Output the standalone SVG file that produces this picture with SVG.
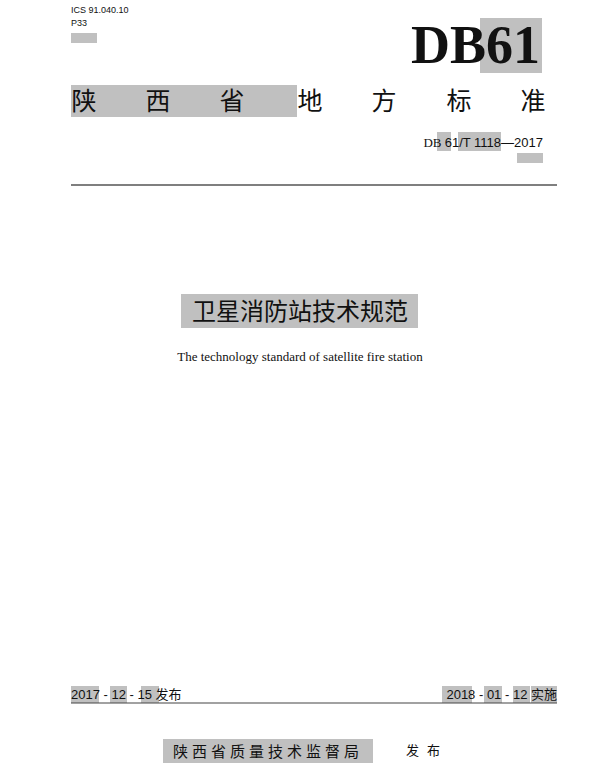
<svg xmlns="http://www.w3.org/2000/svg" width="600" height="768" viewBox="0 0 600 768">
<style>
.g{fill:#c0c0c0}
.s{font-family:"Liberation Sans","Noto Sans CJK SC",sans-serif;fill:#111}
.c{font-family:"Noto Sans CJK SC",sans-serif;fill:#111}
.r{font-family:"Liberation Serif","Noto Sans CJK SC",serif;fill:#111}
</style>
<rect width="600" height="768" fill="#fff"/>
<g id="header">
<text class="s" x="71" y="13" font-size="9">ICS 91.040.10</text>
<text class="s" x="71" y="26" font-size="9">P33</text>
<rect class="g" x="71" y="33" width="26" height="10"/>
<rect class="g" x="480" y="18" width="62" height="55"/>
<text class="r" x="540" y="63" font-size="54" font-weight="bold" text-anchor="end">DB61</text>
<rect class="g" x="71" y="85" width="226" height="32"/>
<g class="c" font-size="25" text-anchor="middle">
<text x="84" y="110">陕</text><text x="158" y="110">西</text><text x="232" y="110">省</text><text x="310" y="110">地</text><text x="384" y="110">方</text><text x="459" y="110">标</text><text x="533" y="110">准</text>
</g>
<rect class="g" x="437" y="132" width="14" height="19"/>
<rect class="g" x="458" y="132" width="43" height="19"/>
<text x="543" y="147" font-size="13" text-anchor="end"><tspan class="r">DB </tspan><tspan class="s">61/T 1118—2017</tspan></text>
<rect class="g" x="517" y="153" width="26" height="10"/>
<line x1="71" y1="185" x2="557" y2="185" stroke="#555" stroke-width="1.5"/>
</g>
<g id="title">
<rect class="g" x="181" y="294" width="237" height="34"/>
<text class="c" x="300" y="320" font-size="24" text-anchor="middle">卫星消防站技术规范</text>
<text class="r" x="300" y="361" font-size="13" text-anchor="middle">The technology standard of satellite fire station</text>
</g>
<g id="footer">
<rect class="g" x="71" y="686" width="28" height="17"/>
<rect class="g" x="110" y="686" width="17" height="17"/>
<rect class="g" x="141" y="686" width="18" height="17"/>
<text class="s" x="71" y="699" font-size="13">2017 - 12 - 15 <tspan class="c">发布</tspan></text>
<rect class="g" x="442" y="686" width="30" height="17"/>
<rect class="g" x="484" y="686" width="18" height="17"/>
<rect class="g" x="513" y="686" width="17" height="17"/>
<rect class="g" x="531" y="686" width="26" height="17"/>
<text class="s" x="557" y="699" font-size="13" text-anchor="end">2018 - 01 - 12 <tspan class="c">实施</tspan></text>
<line x1="71" y1="703" x2="557" y2="703" stroke="#444" stroke-width="1.2"/>
<rect class="g" x="163" y="739" width="210" height="24"/>
<text class="c" x="268" y="757" font-size="15" text-anchor="middle" letter-spacing="4">陕西省质量技术监督局</text>
<text class="c" x="427" y="755" font-size="13" text-anchor="middle" letter-spacing="8">发布</text>
</g>
</svg>
